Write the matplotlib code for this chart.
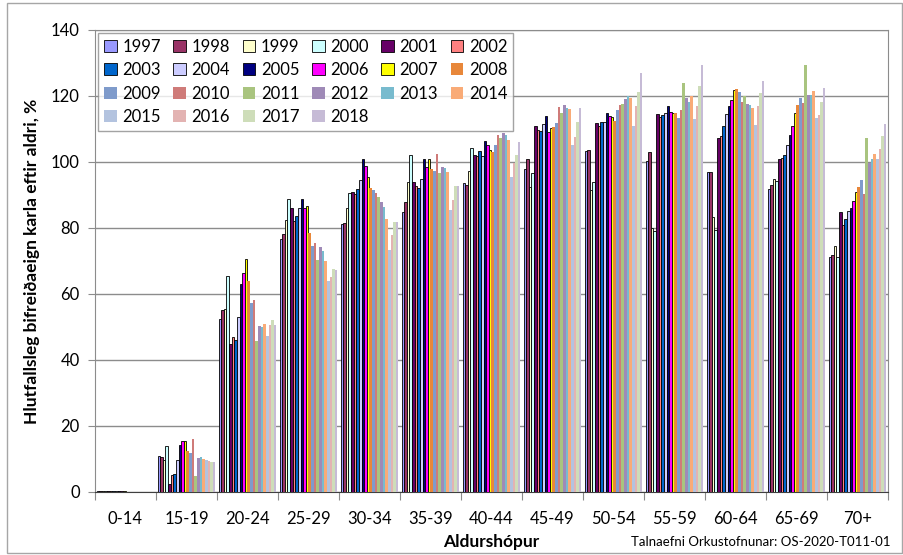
import numpy as np
import matplotlib
matplotlib.use("Agg")
import matplotlib.pyplot as plt
from matplotlib.patches import Rectangle

plt.rcParams["font.family"] = ["Lato", "DejaVu Sans"]

aldur = ["0-14", "15-19", "20-24", "25-29", "30-34", "35-39", "40-44",
         "45-49", "50-54", "55-59", "60-64", "65-69", "70+"]
ar = list(range(1997, 2019))

# hlutfall eftir aldurshopi, ein rod fyrir hvert ar 1997-2018
# (gildin i hverjum lista eru i sömu röð og aldurshóparnir)
gildi = {
    1997: [0.4, 10.9, 52.3, 76.6, 81.2, 85.0, 93.6, 97.8, 103.3, 100.3, 96.9, 91.7, 71.3],
    1998: [0.3, 10.7, 55.2, 78.2, 81.6, 88.0, 93.0, 100.8, 103.6, 103.1, 96.9, 93.0, 71.8],
    1999: [0.3, 9.6, 55.4, 82.4, 86.0, 94.0, 97.3, 92.5, 91.5, 80.0, 83.4, 94.8, 74.5],
    2000: [0.3, 13.8, 65.5, 88.9, 90.5, 102.2, 104.2, 96.6, 94.0, 79.2, 79.5, 94.2, 71.1],
    2001: [0.3, 2.5, 44.8, 86.2, 91.0, 93.8, 102.1, 110.9, 111.7, 114.4, 107.4, 100.9, 84.9],
    2002: [0.3, 5.3, 46.9, 82.0, 90.4, 92.6, 101.8, 109.7, 111.0, 113.6, 107.9, 101.1, 80.9],
    2003: [0.3, 5.6, 46.1, 83.5, 91.8, 92.0, 103.3, 109.5, 112.2, 114.3, 111.0, 102.1, 82.6],
    2004: [0.3, 9.8, 53.0, 86.2, 94.6, 95.0, 101.8, 111.4, 112.0, 114.9, 114.4, 105.3, 85.3],
    2005: [0.3, 14.3, 62.9, 88.9, 100.8, 100.9, 106.5, 113.8, 114.9, 116.9, 117.1, 108.2, 86.0],
    2006: [0.3, 15.5, 66.5, 86.2, 98.8, 98.6, 105.2, 109.2, 113.8, 115.1, 118.9, 111.0, 88.3],
    2007: [0.3, 15.6, 70.6, 86.8, 95.6, 100.9, 103.6, 110.2, 113.7, 114.8, 121.9, 115.0, 90.8],
    2008: [0.0, 12.4, 63.8, 78.4, 92.0, 97.8, 103.1, 110.7, 112.4, 115.0, 122.0, 117.3, 92.5],
    2009: [0.0, 11.8, 57.4, 74.5, 91.5, 97.3, 105.3, 111.7, 115.8, 113.4, 121.1, 119.5, 94.4],
    2010: [0.0, 16.2, 58.3, 75.6, 90.5, 102.5, 108.2, 116.8, 117.3, 115.8, 118.3, 117.8, 90.3],
    2011: [0.0, 4.8, 45.9, 70.2, 89.3, 96.8, 107.2, 114.8, 117.5, 123.8, 120.1, 129.3, 107.2],
    2012: [0.0, 10.3, 50.3, 74.3, 88.0, 98.6, 108.7, 117.3, 119.1, 119.5, 117.5, 120.3, 99.8],
    2013: [0.0, 10.5, 49.9, 72.9, 86.5, 98.1, 108.2, 116.3, 120.1, 118.3, 117.3, 120.3, 100.8],
    2014: [0.0, 10.0, 50.8, 69.9, 82.6, 97.1, 106.7, 116.0, 119.4, 120.1, 116.3, 121.5, 102.4],
    2015: [0.0, 9.7, 47.3, 63.8, 73.2, 85.6, 95.4, 105.2, 111.0, 113.0, 111.2, 113.4, 101.0],
    2016: [0.0, 9.4, 50.6, 65.2, 77.8, 88.6, 99.8, 107.7, 117.1, 117.1, 117.1, 114.2, 103.8],
    2017: [0.0, 9.2, 52.1, 67.6, 81.8, 92.8, 102.1, 112.2, 121.2, 122.9, 120.8, 118.3, 108.0],
    2018: [0.0, 9.0, 50.5, 67.3, 81.8, 92.8, 106.1, 116.4, 127.0, 129.3, 124.4, 122.4, 111.6],
}

litir = {
    1997: "#9999FF", 1998: "#993366", 1999: "#FFFFCC", 2000: "#CCFFFF",
    2001: "#660066", 2002: "#FF8080", 2003: "#0066CC", 2004: "#CCCCFF",
    2005: "#000080", 2006: "#FF00FF", 2007: "#FFFF00", 2008: "#E8873A",
    2009: "#7F9BCB", 2010: "#CF7B79", 2011: "#A9C47F", 2012: "#9F8AB7",
    2013: "#78BBCE", 2014: "#F9AB77", 2015: "#B3C3DF", 2016: "#E3B3B2",
    2017: "#CEDDB9", 2018: "#C6BBD6",
}

fig = plt.figure(figsize=(9.04, 5.55), dpi=100)
ax = fig.add_axes([95 / 904, 1 - 492 / 555, 793 / 904, 462 / 555])

x = np.arange(len(aldur))
breidd = 0.95 / len(ar)
for i, a in enumerate(ar):
    pos = x - 0.475 + breidd * (i + 0.5)
    if a <= 2007:
        ax.bar(pos, gildi[a], breidd, color=litir[a], edgecolor="black",
               linewidth=0.6, label=str(a), zorder=3)
    else:
        ax.bar(pos, gildi[a], breidd, color=litir[a], linewidth=0,
               label=str(a), zorder=3)

ax.set_xlim(-0.5, len(aldur) - 0.5)
ax.set_ylim(0, 140)
ax.set_yticks(range(0, 141, 20))
ax.yaxis.grid(True, color="#8c8c8c", linewidth=1.0, zorder=0)
ax.tick_params(axis="y", labelsize=12, length=5, color="#8c8c8c", pad=6)

ax.set_xticks(np.arange(-0.5, len(aldur), 1.0))
ax.set_xticklabels([])
ax.set_xticks(x, minor=True)
ax.set_xticklabels(aldur, minor=True)
ax.tick_params(axis="x", which="major", length=6, color="#8c8c8c")
ax.tick_params(axis="x", which="minor", length=0, labelsize=12, pad=14)

for s in ["left", "right", "top"]:
    ax.spines[s].set_color("#8c8c8c")
ax.spines["bottom"].set_color("#404040")

ax.set_ylabel("Hlutfallsleg bifreiðaeign karla eftir aldri, %", fontsize=12.5,
              fontweight="bold", labelpad=8)
ax.set_xlabel("Aldurshópur", fontsize=12.5, fontweight="bold", labelpad=5)

# legend i rodum (ar eftir ar lárétt), matplotlib fyllir dalka fyrst
handles, labels = ax.get_legend_handles_labels()
ncol = 6
rows = 4
order = [r * ncol + c for c in range(ncol) for r in range(rows) if r * ncol + c < len(ar)]
leg = ax.legend([handles[k] for k in order], [labels[k] for k in order],
                ncol=ncol, loc="upper left", bbox_to_anchor=(0.004, 0.994),
                fontsize=12, frameon=True, fancybox=False, edgecolor="#8c8c8c",
                handlelength=0.75, handleheight=0.75, handletextpad=0.35,
                columnspacing=0.75, labelspacing=0.45, borderpad=0.35,
                borderaxespad=0)
leg.get_frame().set_linewidth(1.0)

fig.text(0.985, 0.012, "Talnaefni Orkustofnunar: OS-2020-T011-01",
         ha="right", va="bottom", fontsize=9.5)

fig.patches.append(Rectangle((0.008, 0.004), 0.99, 0.99, transform=fig.transFigure,
                             fill=False, edgecolor="#a6a6a6", linewidth=1.0))

fig.savefig("out.png", dpi=100)
